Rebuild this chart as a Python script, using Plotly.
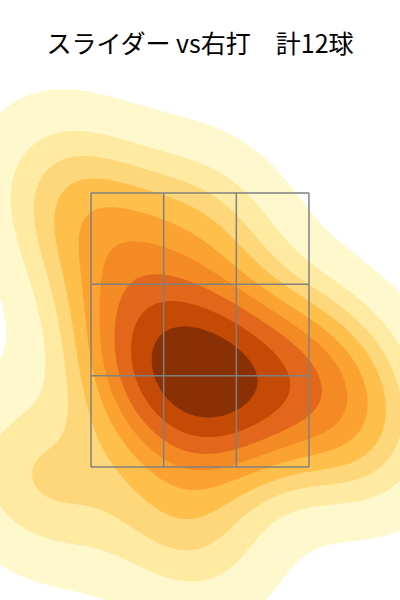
import numpy as np
import plotly.graph_objects as go

# 投球位置 (ft, 捕手視点)
plate_x = [-0.43, -0.12, 0.16, 0.43, -0.06, 0.98, -0.12, 1.17, -1.25, -0.64, -0.98, 0.04]
plate_z = [2.21, 2.28, 2.11, 2.19, 1.97, 2.28, 1.08, 1.77, 1.41, 2.90, 3.49, 3.23]

# ストライクゾーン 3x3
zone_x = [-0.85, -0.2833, 0.2833, 0.85]
zone_z = [1.5, 2.1667, 2.8333, 3.5]

band_colors = ['#ffffff', '#fff8cd', '#feeaa0', '#fed77a', '#fec04b',
               '#fca231', '#f48a24', '#e3671b', '#c54a05', '#8a3005']

title_text = 'スライダー vs右打　計12球'

# ガウスKDE (scott)
pts = np.vstack([plate_x, plate_z])
n = pts.shape[1]
factor = n ** (-1 / 6)
cov = np.cov(pts) * factor ** 2
inv = np.linalg.inv(cov)
bw = np.sqrt(np.diag(cov))

gx = np.linspace(pts[0].min() - 3 * bw[0], pts[0].max() + 3 * bw[0], 200)
gy = np.linspace(pts[1].min() - 3 * bw[1], pts[1].max() + 3 * bw[1], 200)
X, Y = np.meshgrid(gx, gy)
dens = np.zeros_like(X)
for px, py in zip(plate_x, plate_z):
    dx = X - px
    dy = Y - py
    q = inv[0, 0] * dx ** 2 + 2 * inv[0, 1] * dx * dy + inv[1, 1] * dy ** 2
    dens += np.exp(-0.5 * q)

# 等確率レベル
props = np.linspace(0.05, 1, 10)
vals = np.sort(dens.ravel())[::-1]
cum = np.cumsum(vals) / vals.sum()
idx = np.searchsorted(cum, 1 - props)
levels = np.take(vals, idx, mode='clip')

zz = np.where(dens >= levels[0],
              np.interp(dens, levels, np.arange(len(levels))),
              dens / levels[0] - 1)

nb = len(band_colors) - 1
colorscale = [[i / nb, c] for i, c in enumerate(band_colors)]

fig = go.Figure()
fig.add_trace(go.Contour(
    x=gx, y=gy, z=zz,
    autocontour=False,
    contours=dict(start=0, end=8, size=1, coloring='fill'),
    line=dict(width=0),
    colorscale=colorscale,
    showscale=False,
    hoverinfo='skip',
))

for zx in zone_x:
    fig.add_shape(type='line', x0=zx, x1=zx, y0=zone_z[0], y1=zone_z[-1],
                  line=dict(color='#808080', width=1.5))
for zz_ in zone_z:
    fig.add_shape(type='line', x0=zone_x[0], x1=zone_x[-1], y0=zz_, y1=zz_,
                  line=dict(color='#808080', width=1.5))

fig.update_layout(
    width=400, height=600,
    margin=dict(l=0, r=0, t=80, b=0),
    paper_bgcolor='white', plot_bgcolor='white',
    title=dict(text=title_text, x=0.5, xanchor='center', y=1 - 44 / 600, yanchor='middle',
               yref='container', font=dict(family='Noto Sans CJK JP', size=25, color='black')),
    xaxis=dict(range=[-1.56, 1.56], visible=False, fixedrange=True),
    yaxis=dict(range=[0.529, 4.325], visible=False, fixedrange=True),
    showlegend=False,
)

fig.write_html('out.html', config={'displayModeBar': False},
               post_script="document.body.style.margin='0';")
